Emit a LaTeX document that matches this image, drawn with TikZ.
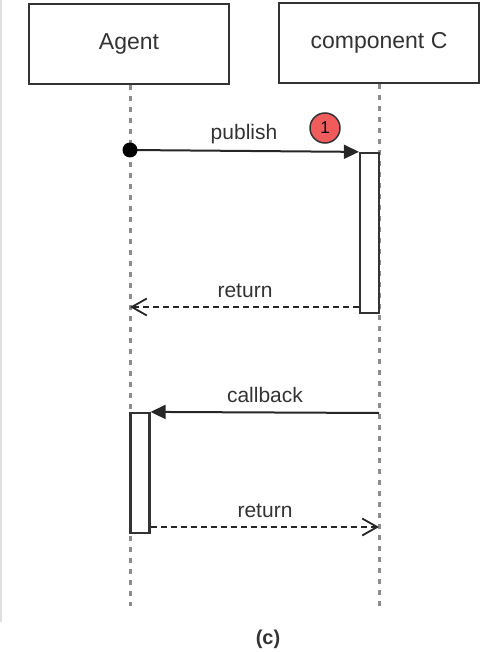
\documentclass[tikz,border=0pt]{standalone}
\usepackage{fontspec}
\setmainfont{Liberation Sans}
\usetikzlibrary{arrows.meta}
\usetikzlibrary{calc}
\definecolor{boxline}{HTML}{333333}
\definecolor{dotline}{HTML}{8C8C8C}
\definecolor{markred}{HTML}{F05C5C}
\tikzset{
	actor/.style={draw=boxline, line width=2.2pt, fill=white, minimum width=200, minimum height=80,
		font=\fontsize{23}{27}\selectfont, text=black!80},
	lifeline/.style={dotline, line width=3pt, dash pattern=on 5pt off 6pt},
	activation/.style={draw=boxline, line width=2.2pt, fill=white, minimum width=19, minimum height=#1, inner sep=0pt},
	msg/.style={line width=2pt, draw=black!85, -{Triangle[length=15pt,width=14pt]}},
	ret/.style={line width=1.8pt, draw=black!85, dash pattern=on 6pt off 4pt, -{Straight Barb[length=15pt,width=17pt,line width=1.8pt]}},
	lbl/.style={font=\fontsize{21}{25}\selectfont, text=black!80, inner sep=0pt}
}

\begin{document}
\begin{tikzpicture}[x=1pt, y=-1pt]
	\useasboundingbox (0,0) rectangle (480,652);
	% faint frame edge on the left
	\draw[black!12, line width=1.5pt] (1,0) -- (1,622);
	
	% participants
	\node[actor] (agent) at (129,44) {Agent};
	\node[actor] (compC) at (379,43) {component C};
	
	% lifelines
	\coordinate (agentEnd) at (130,606);
	\coordinate (compEnd) at (379,606);
	\draw[lifeline] (agent.south -| agentEnd) -- (agentEnd);
	\draw[lifeline] (compC.south) -- (compEnd);
	
	% activations
	\node[activation=160] (actC) at (369.5,233) {};
	\node[activation=120] (actA) at (140,473) {};
	
	% publish
	\coordinate (pubStart) at (130,150);
	\draw[msg] (pubStart) -- (actC.north west);
	\fill[black] (pubStart) circle (7.5);
	\node[lbl, anchor=base] (pubLbl) at (244,140) {publish};
	\node[circle, draw=black!80, line width=1.5pt, fill=markred, minimum size=30, inner sep=0pt,
		font=\fontsize{17}{19}\selectfont] (mark) at (325,128) {1};
	
	% return to agent
	\coordinate (retA) at (130,307);
	\draw[ret] (actC.south west |- retA) -- (retA);
	\node[lbl, anchor=base] (retLblA) at (245,297) {return};
	
	% callback
	\coordinate (cbStart) at (379,413);
	\draw[msg] (cbStart) -- (actA.north east);
	\node[lbl, anchor=base] (cbLbl) at (265,402) {callback};
	
	% return to component C
	\coordinate (retC) at (379,527);
	\draw[ret] (actA.east |- retC) -- (retC);
	\node[lbl, anchor=base] (retLblC) at (265,517) {return};
	
	% caption
	\node[lbl, anchor=base, font=\fontsize{20}{24}\selectfont\bfseries] (cap) at (268,644) {(c)};
\end{tikzpicture}
\end{document}
